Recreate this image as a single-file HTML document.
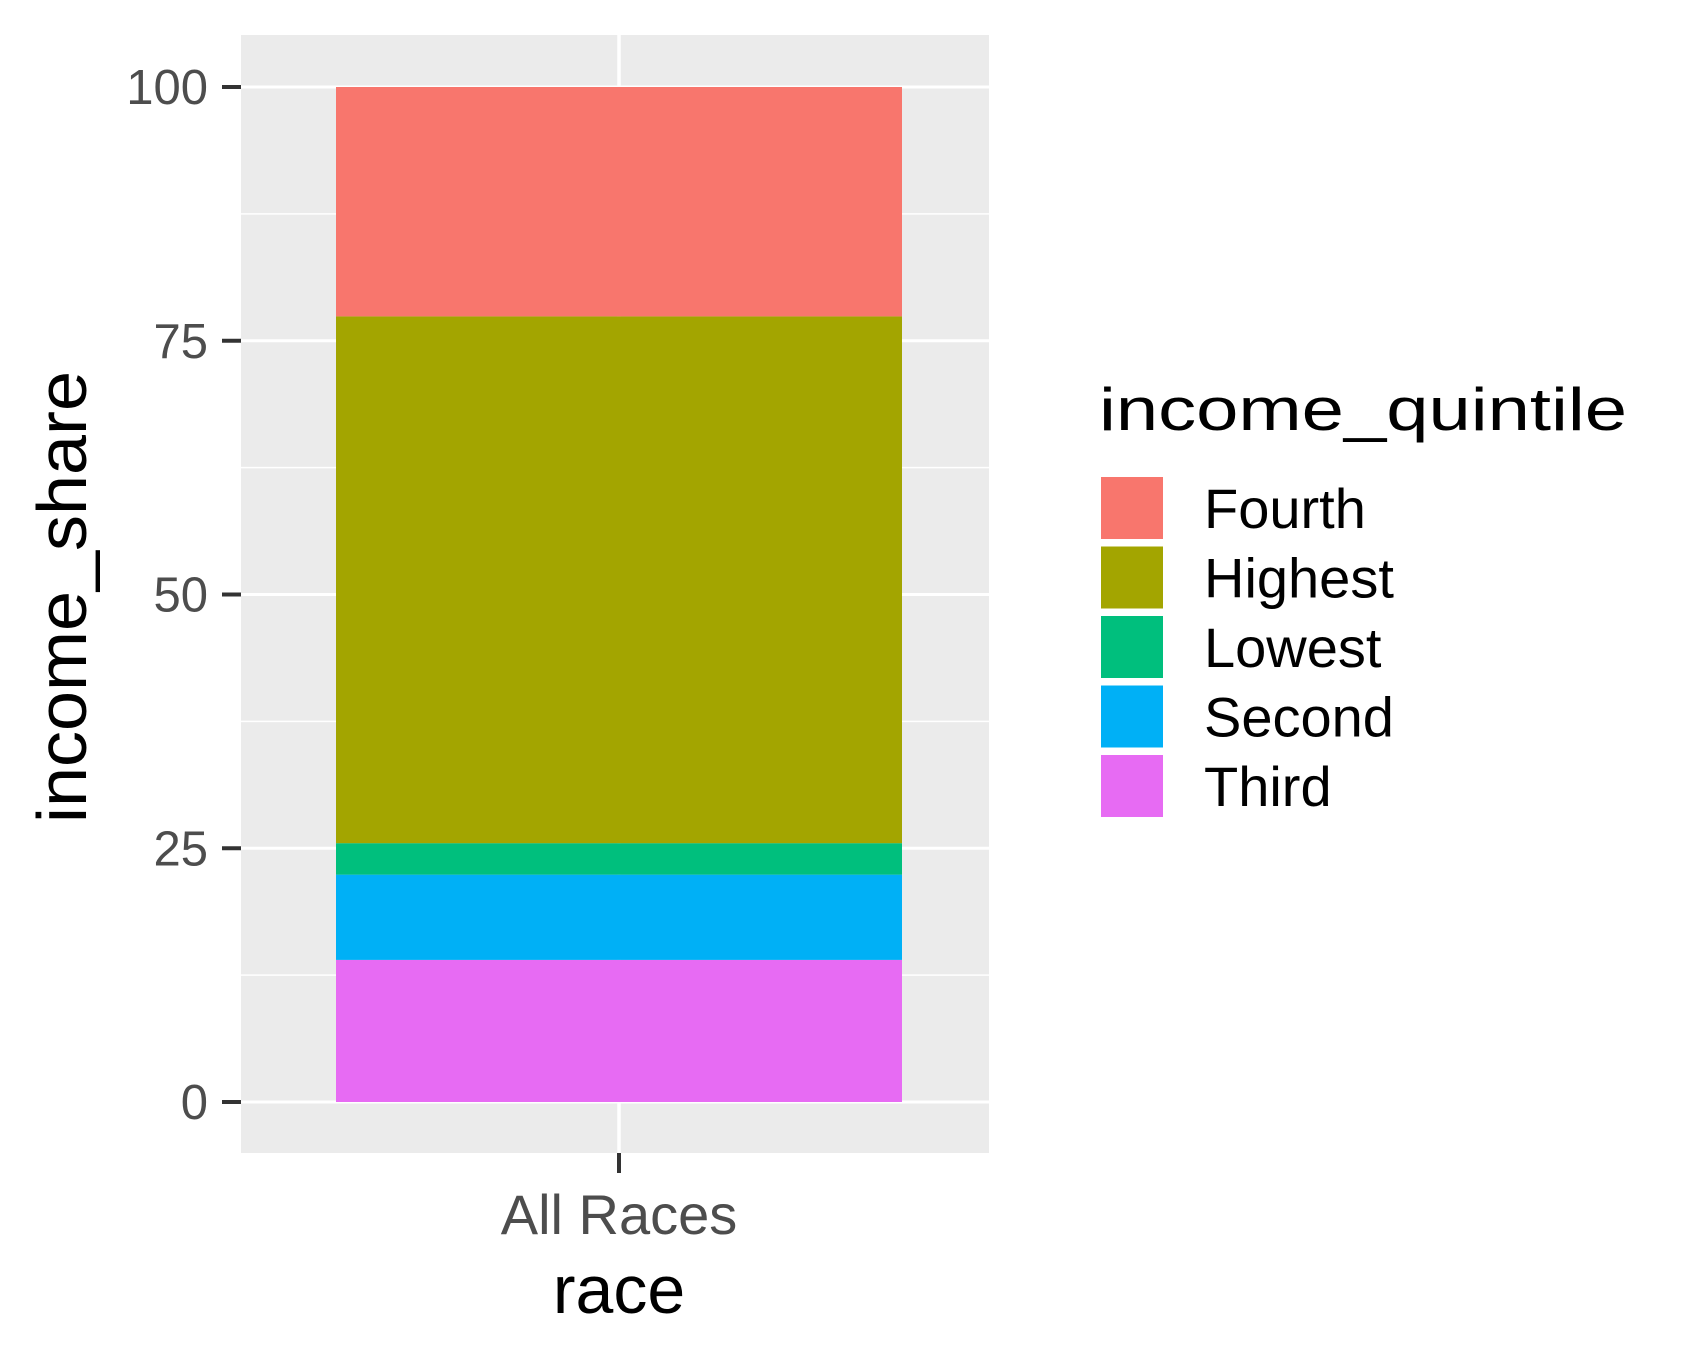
<!DOCTYPE html>
<html><head><meta charset="utf-8"><style>
html,body{margin:0;padding:0;background:#fff;}
svg{display:block;font-family:"Liberation Sans",sans-serif;}
</style></head><body>
<svg id="chart" width="1700" height="1360" viewBox="0 0 1700 1360" xmlns="http://www.w3.org/2000/svg">
<rect x="241" y="35" width="748" height="1118" fill="#ebebeb"/>
<g id="grid"></g>
<g id="bars"></g>
<g id="yaxis"></g>
<g id="xaxis"></g>
<text x="62" y="597" font-size="70" fill="#000" text-anchor="middle" textLength="452" lengthAdjust="spacingAndGlyphs" transform="rotate(-90 62 597)" dominant-baseline="central">income_share</text>
<text x="619" y="1313" font-size="68" fill="#000" text-anchor="middle">race</text>
<text x="1099" y="430" font-size="60" fill="#000" textLength="528" lengthAdjust="spacingAndGlyphs">income_quintile</text>
<g id="legend"></g>
</svg>
<script>
const categories = ["All Races"];
const groups = ["Third", "Second", "Lowest", "Highest", "Fourth"];
const values = [14.0, 8.4, 3.1, 51.9, 22.6];
const legendOrder = ["Fourth", "Highest", "Lowest", "Second", "Third"];
const yTicks = [0, 25, 50, 75, 100];
const colors = {Fourth:"#F8766D", Highest:"#A3A500", Lowest:"#00BF7D", Second:"#00B0F6", Third:"#E76BF3"};
const NS = "http://www.w3.org/2000/svg";
const y = v => 1102 - v * (1102 - 87) / 100;
const x = i => 619;
function mk(tag, attrs, parent){const e=document.createElementNS(NS,tag);for(const k in attrs)e.setAttribute(k,attrs[k]);parent.appendChild(e);return e;}
const grid=document.getElementById('grid');
for(let i=0;i<yTicks.length-1;i++){
  const m=(yTicks[i]+yTicks[i+1])/2;
  const l=mk('line',{x1:241,x2:989,y1:y(m),y2:y(m),stroke:'#fff','stroke-width':1.4},grid);
  
  
}
yTicks.forEach(t=>{
  const l=mk('line',{x1:241,x2:989,y1:y(t),y2:y(t),stroke:'#fff','stroke-width':3},grid);
  
  
});
categories.forEach((c,i)=>{
  const l=mk('line',{x1:x(i),x2:x(i),y1:35,y2:1153,stroke:'#fff','stroke-width':3.5},grid);
  
  
});
const bars=document.getElementById('bars');
let cum=0;
groups.forEach((g,i)=>{
  const r=mk('rect',{x:336,width:566,y:y(cum+values[i]),height:y(cum)-y(cum+values[i]),fill:colors[g]},bars);
  
  
  cum+=values[i];
});
const ya=document.getElementById('yaxis');
yTicks.forEach(t=>{
  const l=mk('line',{x1:222,x2:241,y1:y(t),y2:y(t),stroke:'#333','stroke-width':4},ya);
  
  
  const tx=mk('text',{x:208,y:y(t)+17,'font-size':49,fill:'#4d4d4d','text-anchor':'end'},ya);
  tx.textContent=t;
  
  
});
const xa=document.getElementById('xaxis');
categories.forEach((c,i)=>{
  const l=mk('line',{x1:x(i),x2:x(i),y1:1153,y2:1173,stroke:'#333','stroke-width':4},xa);
  
  
  const tx=mk('text',{x:x(i),y:1234,'font-size':56,fill:'#4d4d4d','text-anchor':'middle'},xa);
  tx.textContent=c;
  
  
});
const lg=document.getElementById('legend');
legendOrder.forEach((g,i)=>{
  const top=476+i*69.5;
  const r=mk('rect',{x:1100,y:top,width:64,height:64,fill:colors[g],stroke:'#fff','stroke-width':2},lg);
  
  
  const tx=mk('text',{x:1204,y:top+52,'font-size':56,fill:'#000'},lg);
  tx.textContent=g;
  
  
});
</script>
</body></html>
